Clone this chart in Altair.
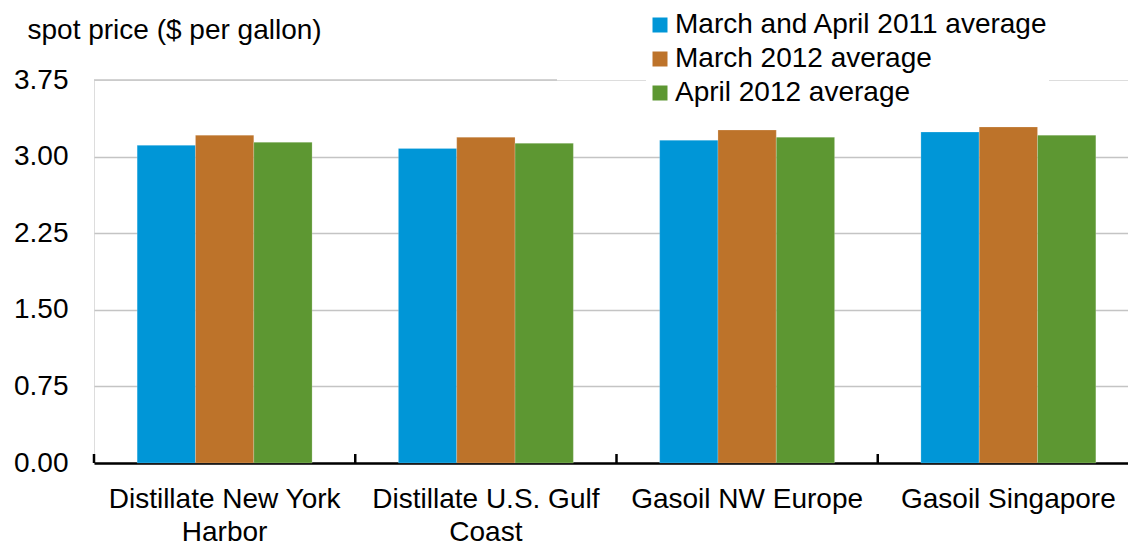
import altair as alt
import pandas as pd

categories = ["Distillate New York|Harbor", "Distillate U.S. Gulf|Coast", "Gasoil NW Europe", "Gasoil Singapore"]
series_names = ["March and April 2011 average", "March 2012 average", "April 2012 average"]
avg_2011 = [3.11, 3.08, 3.16, 3.24]
mar_2012 = [3.21, 3.19, 3.26, 3.29]
apr_2012 = [3.14, 3.13, 3.19, 3.21]
y_ticks = [0.0, 0.75, 1.5, 2.25, 3.0, 3.75]
colors = ["#0096D7", "#BD732A", "#5D9732"]

rows = []
for s, vals in zip(series_names, [avg_2011, mar_2012, apr_2012]):
    for c, v in zip(categories, vals):
        rows.append({"cat": c, "series": s, "value": v})
df = pd.DataFrame(rows)
cat_df = pd.DataFrame({"cat": categories})

FONT = "Liberation Sans"
FS = 28
W, H = 1034, 383

x_scale = alt.Scale(domain=categories, paddingInner=0, paddingOuter=0, range=[0, 1045])
y_scale = alt.Scale(domain=[0, 3.75], nice=False)

bars = alt.Chart(df).mark_bar(stroke="white", strokeWidth=0.5, strokeOpacity=0.4).encode(
    x=alt.X("cat:N", scale=x_scale, sort=categories,
            axis=alt.Axis(title=None, labelExpr="split(datum.label, '|')", labelAngle=0,
                          labelFontSize=FS, labelColor="black", labelFont=FONT,
                          labelLineHeight=33, labelPadding=22, labelLimit=400,
                          ticks=False, domainColor="black", domainWidth=2.5,
                          labelBaseline="top")),
    xOffset=alt.XOffset("series:N", sort=series_names,
                        scale=alt.Scale(domain=series_names, paddingInner=0, paddingOuter=0.74)),
    y=alt.Y("value:Q", scale=y_scale,
            axis=alt.Axis(values=y_ticks, format=".2f", title="spot price ($ per gallon)",
                          titleAngle=0, titleX=-67, titleY=-50, titleAlign="left",
                          titleBaseline="middle", titleFontWeight="normal",
                          titleFontSize=FS, titleFont=FONT, titleColor="black",
                          labelFontSize=FS, labelFont=FONT, labelColor="black",
                          labelPadding=26, ticks=False, domain=False,
                          grid=True, gridColor="#c4c4c4", gridWidth=1.5,
                          gridOpacity={"condition": {"test": "datum.value > 3.7", "value": 0}, "value": 1})),
    color=alt.Color("series:N", sort=series_names,
                    scale=alt.Scale(domain=series_names, range=colors),
                    legend=alt.Legend(title=None, orient="none", legendX=552, legendY=-69,
                                      symbolType="square", symbolSize=225, symbolStrokeWidth=0,
                                      labelFontSize=FS, labelFont=FONT, labelColor="black",
                                      labelOffset=1, rowPadding=6, padding=0,
                                      fillColor="white", labelLimit=600)),
)

top_grid = alt.Chart(pd.DataFrame({"v": [3.75]})).mark_rule(color="#c4c4c4", strokeWidth=1.5).encode(
    y=alt.Y("v:Q", scale=y_scale),
    x=alt.value(0),
    x2=alt.value(463),
)

ticks = alt.Chart(cat_df).mark_rule(color="black", strokeWidth=2.5).encode(
    x=alt.X("cat:N", scale=x_scale, sort=categories, bandPosition=0),
    y=alt.value(H),
    y2=alt.value(H - 9),
)

chart = alt.layer(top_grid, bars, ticks).properties(
    width=W, height=H,
    padding={"left": 86, "top": 72, "right": 0, "bottom": 92},
    autosize=alt.AutoSizeParams(type="none"),
).configure_view(stroke=None).configure(font=FONT)

chart.save("out.html", embed_options={"renderer": "svg", "actions": False})
